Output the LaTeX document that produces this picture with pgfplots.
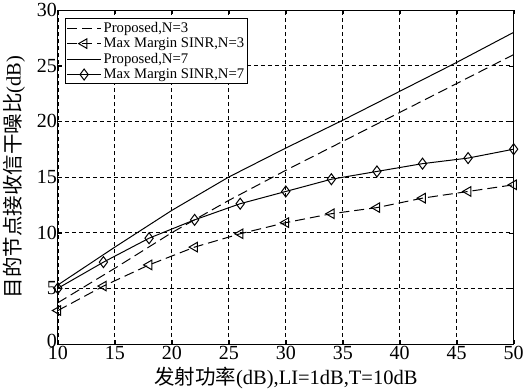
\documentclass[border=0pt]{standalone}
\usepackage{pgfplots}
\pgfplotsset{compat=1.18}
\usepackage{fontspec}
\setmainfont{Liberation Serif}
\newfontfamily\cjk{Noto Sans CJK SC}
\begin{document}
\begin{tikzpicture}
\begin{axis}[
  scale only axis,
  width=456pt, height=334pt,
  xmin=10, xmax=50, ymin=0, ymax=30,
  xtick={10,15,...,50}, ytick={0,5,...,30},
  yticklabels={\raisebox{6pt}{0},5,10,15,20,25,30},
  grid=major,
  major grid style={black, dash pattern=on 4pt off 3pt, line width=0.7pt},
  axis line style={black, line width=0.8pt},
  tick style={black},
  tick align=inside,
  /pgf/number format/assume math mode=true,
  tick label style={font=\fontsize{20}{20}\selectfont},
  xticklabel style={yshift=1pt},
  yticklabel style={xshift=2.5pt},
  xlabel={{\cjk 发射功率}(dB),LI=1dB,T=10dB},
  ylabel={{\cjk 目的节点接收信干噪比}(dB)},
  label style={font=\fontsize{20.5}{20.5}\selectfont},
  xlabel style={yshift=0pt},
  ylabel style={yshift=5pt},
  legend cell align=left,
  legend style={font=\fontsize{14.7}{14.7}\selectfont, draw=black, line width=0.8pt, inner sep=1.5pt, row sep=0pt, at={(0.015,0.975)}, anchor=north west},
  legend image code/.code={\draw[mark repeat=2,mark phase=2,#1] plot coordinates {(0pt,0pt) (17pt,0pt) (34pt,0pt)};},
  legend image post style={line width=1pt},
]
\addplot[black, line width=1pt, dash pattern=on 10pt off 5pt] coordinates {
(10,3.7) (15,6.8) (20,10.0) (25,12.9) (30,15.6) (35,18.2) (40,20.8) (45,23.4) (50,26.0)};
\addlegendentry{Proposed,N=3}
\addplot[black, line width=1pt, dash pattern=on 10pt off 5pt, mark=triangle, mark size=5.5pt, mark options={solid, rotate=90, line width=1pt}] coordinates {
(10,3.0) (14,5.2) (18,7.1) (22,8.7) (26,9.9) (30,10.9) (34,11.7) (38,12.25) (42,13.1) (46,13.7) (50,14.3)};
\addlegendentry{Max Margin SINR,N=3}
\addplot[black, line width=1pt] coordinates {
(10,5.3) (15,8.7) (20,12.0) (25,15.0) (30,17.6) (35,20.1) (40,22.7) (45,25.3) (50,28.0)};
\addlegendentry{Proposed,N=7}
\addplot[black, line width=1pt, mark=diamond, mark size=5.5pt, mark options={solid, line width=1pt}] coordinates {
(10,5.0) (14,7.35) (18,9.5) (22,11.15) (26,12.6) (30,13.7) (34,14.8) (38,15.5) (42,16.2) (46,16.7) (50,17.5)};
\addlegendentry{Max Margin SINR,N=7}
\end{axis}
\end{tikzpicture}
\end{document}
